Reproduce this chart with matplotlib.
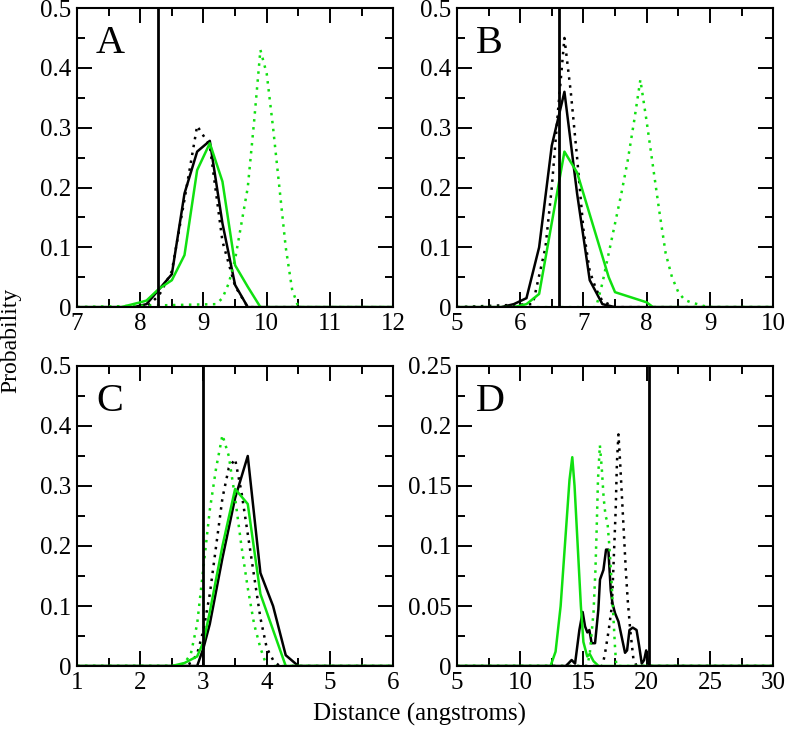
import matplotlib
matplotlib.use("Agg")
import matplotlib.pyplot as plt
from matplotlib.ticker import MultipleLocator, FuncFormatter

GREEN = "#10e010"

# ---- panel A ----
a_black_x = [7.0, 7.9, 8.1, 8.3, 8.5, 8.7, 8.9, 9.1, 9.3, 9.5, 9.7, 12.0]
a_black_y = [0, 0, 0.005, 0.03, 0.055, 0.19, 0.26, 0.278, 0.14, 0.037, 0, 0]
a_bdot_x = [7.0, 8.1, 8.3, 8.5, 8.7, 8.9, 9.1, 9.3, 9.5, 9.7, 12.0]
a_bdot_y = [0, 0, 0.02, 0.06, 0.18, 0.303, 0.27, 0.11, 0.035, 0, 0]
a_green_x = [7.0, 7.7, 8.0, 8.1, 8.3, 8.5, 8.7, 8.9, 9.1, 9.3, 9.5, 9.7, 9.9, 12.0]
a_green_y = [0, 0, 0.008, 0.011, 0.031, 0.045, 0.087, 0.229, 0.274, 0.21, 0.07, 0.034, 0, 0]
a_gdot_x = [7.0, 9.2, 9.3, 9.4, 9.5, 9.6, 9.7, 9.8, 9.9, 10.0, 10.1, 10.2, 10.3, 10.4, 10.5, 12.0]
a_gdot_y = [0, 0.005, 0.015, 0.04, 0.08, 0.14, 0.2, 0.31, 0.43, 0.39, 0.3, 0.2, 0.1, 0.03, 0, 0]
a_vline = 8.28

# ---- panel B ----
b_black_x = [5.0, 5.7, 5.9, 6.1, 6.3, 6.5, 6.7, 6.9, 7.1, 7.3, 7.5, 10.0]
b_black_y = [0, 0, 0.005, 0.015, 0.1, 0.27, 0.36, 0.19, 0.045, 0.005, 0, 0]
b_bdot_x = [5.0, 6.2, 6.4, 6.5, 6.6, 6.7, 6.8, 6.9, 7.0, 7.1, 7.2, 7.3, 7.4, 7.5, 10.0]
b_bdot_y = [0, 0.005, 0.1, 0.2, 0.33, 0.45, 0.36, 0.25, 0.13, 0.06, 0.03, 0.01, 0.005, 0, 0]
b_green_x = [5.0, 5.9, 6.1, 6.3, 6.7, 6.9, 7.4, 7.5, 8.0, 8.1, 10.0]
b_green_y = [0, 0, 0.005, 0.022, 0.26, 0.225, 0.05, 0.025, 0.008, 0, 0]
b_gdot_x = [5.0, 7.2, 7.3, 7.4, 7.5, 7.6, 7.7, 7.8, 7.9, 8.0, 8.1, 8.2, 8.3, 8.4, 8.5, 8.6,
            8.7, 8.8, 8.9, 9.0, 10.0]
b_gdot_y = [0, 0, 0.04, 0.09, 0.14, 0.19, 0.245, 0.31, 0.38, 0.31, 0.235, 0.16, 0.09, 0.05,
            0.025, 0.012, 0.008, 0.005, 0.002, 0, 0]
b_vline = 6.62

# ---- panel C ----
c_black_x = [1.0, 2.9, 3.0, 3.1, 3.3, 3.5, 3.7, 3.9, 4.1, 4.3, 4.5, 6.0]
c_black_y = [0, 0, 0.03, 0.07, 0.18, 0.28, 0.35, 0.155, 0.1, 0.018, 0, 0]
c_bdot_x = [1.0, 2.7, 2.8, 2.9, 3.0, 3.1, 3.2, 3.3, 3.4, 3.5, 3.6, 3.7, 3.8, 3.9, 4.0, 4.1, 4.2, 6.0]
c_bdot_y = [0, 0, 0.005, 0.02, 0.06, 0.12, 0.2, 0.28, 0.33, 0.345, 0.29, 0.22, 0.15, 0.08,
            0.03, 0.01, 0, 0]
c_green_x = [1.0, 2.5, 2.7, 2.9, 3.0, 3.1, 3.3, 3.5, 3.7, 3.9, 4.1, 4.3, 6.0]
c_green_y = [0, 0, 0.005, 0.016, 0.04, 0.09, 0.2, 0.295, 0.27, 0.12, 0.06, 0, 0]
c_gdot_x = [1.0, 2.6, 2.7, 2.8, 2.9, 3.0, 3.1, 3.2, 3.3, 3.4, 3.5, 3.6, 3.7, 3.8, 3.9, 4.0, 6.0]
c_gdot_y = [0, 0, 0.005, 0.02, 0.07, 0.165, 0.26, 0.33, 0.385, 0.35, 0.28, 0.2, 0.13, 0.07,
            0.03, 0, 0]
c_vline = 3.0

# ---- panel D ----
d_black_x = [5.0, 13.6, 13.8, 14.07, 14.34, 14.68, 14.94, 15.13, 15.31, 15.47, 15.65, 15.92,
             16.18, 16.31, 16.58, 16.79, 16.97, 17.16, 17.3, 17.5, 17.77, 18.03, 18.29, 18.45,
             18.64, 18.9, 19.2, 19.4, 19.61, 19.8, 19.96, 20.14, 30.0]
d_black_y = [0, 0, 0.002, 0.005, 0.002, 0.03, 0.045, 0.033, 0.028, 0.03, 0.019, 0.019,
             0.047, 0.072, 0.08, 0.097, 0.097, 0.063, 0.052, 0.044, 0.037, 0.024, 0.011, 0.013,
             0.03, 0.032, 0.03, 0.017, 0.002, 0.005, 0.013, 0, 0]
d_bdot_x = [5.0, 16.5, 16.7, 17.0, 17.25, 17.4, 17.55, 17.65, 17.77, 17.9, 18.05, 18.2, 18.35,
            18.5, 18.7, 18.95, 19.2, 30.0]
d_bdot_y = [0, 0, 0.01, 0.03, 0.05, 0.09, 0.13, 0.17, 0.193, 0.17, 0.14, 0.11, 0.08, 0.055,
            0.03, 0.006, 0, 0]
d_green_x = [5.0, 12.4, 12.8, 13.2, 13.6, 13.9, 14.12, 14.3, 14.5, 14.8, 15.0, 15.3, 15.5,
             15.8, 16.2, 30.0]
d_green_y = [0, 0, 0.012, 0.05, 0.11, 0.155, 0.174, 0.15, 0.11, 0.05, 0.02, 0.008, 0.01,
             0.004, 0, 0]
d_gdot_x = [5.0, 15.3, 15.5, 15.8, 15.95, 16.05, 16.15, 16.3, 16.45, 16.6, 16.75, 16.9, 17.05,
            17.2, 17.35, 17.5, 17.6, 30.0]
d_gdot_y = [0, 0, 0.01, 0.045, 0.08, 0.115, 0.155, 0.184, 0.165, 0.14, 0.125, 0.12, 0.1,
            0.075, 0.045, 0.015, 0, 0]
d_vline = 20.2

panels = [
    ("A", (7, 12), (0, 0.5), 1, 0.1, a_black_x, a_black_y, a_bdot_x, a_bdot_y,
     a_green_x, a_green_y, a_gdot_x, a_gdot_y, a_vline),
    ("B", (5, 10), (0, 0.5), 1, 0.1, b_black_x, b_black_y, b_bdot_x, b_bdot_y,
     b_green_x, b_green_y, b_gdot_x, b_gdot_y, b_vline),
    ("C", (1, 6), (0, 0.5), 1, 0.1, c_black_x, c_black_y, c_bdot_x, c_bdot_y,
     c_green_x, c_green_y, c_gdot_x, c_gdot_y, c_vline),
    ("D", (5, 30), (0, 0.25), 5, 0.05, d_black_x, d_black_y, d_bdot_x, d_bdot_y,
     d_green_x, d_green_y, d_gdot_x, d_gdot_y, d_vline),
]

positions = [
    [0.098, 0.581, 0.403, 0.408],
    [0.582, 0.581, 0.403, 0.408],
    [0.098, 0.0914, 0.403, 0.4093],
    [0.582, 0.0914, 0.403, 0.4093],
]

plt.rcParams["font.family"] = ["Liberation Serif", "DejaVu Serif"]

fig = plt.figure(figsize=(7.85, 7.33), dpi=100)
lw = 1.8
fmt = FuncFormatter(lambda v, p: "%g" % v)

for pos, (label, xl, yl, xmaj, ymaj, bx, by, bdx, bdy, gx, gy, gdx, gdy, vx) in zip(positions, panels):
    ax = fig.add_axes(pos)
    ax.plot(bx, by, color="black", lw=lw)
    ax.plot(bdx, bdy, color="black", lw=lw, linestyle=(0, (1, 2.2)))
    ax.plot(gx, gy, color=GREEN, lw=lw)
    ax.plot(gdx, gdy, color=GREEN, lw=lw, linestyle=(0, (1, 2.2)))
    ax.axvline(vx, color="black", lw=2.0)
    ax.set_xlim(*xl)
    ax.set_ylim(*yl)
    ax.xaxis.set_major_locator(MultipleLocator(xmaj))
    ax.xaxis.set_minor_locator(MultipleLocator(xmaj / 2))
    ax.yaxis.set_major_locator(MultipleLocator(ymaj))
    ax.yaxis.set_minor_locator(MultipleLocator(ymaj / 2))
    ax.xaxis.set_major_formatter(fmt)
    ax.yaxis.set_major_formatter(fmt)
    ax.tick_params(which="both", direction="in", top=True, right=True, width=1.4,
                   labelsize=18, pad=4)
    ax.tick_params(which="major", length=11)
    ax.tick_params(which="minor", length=5.5)
    for s in ax.spines.values():
        s.set_linewidth(1.5)
    ax.text(0.06, 0.85, label, transform=ax.transAxes, fontsize=29)

fig.text(0.535, 0.025, "Distance (angstroms)", ha="center", va="center", fontsize=18)
fig.text(0.014, 0.535, "Probability", ha="center", va="center", rotation=90, fontsize=17)

fig.savefig("out.png", dpi=100)
